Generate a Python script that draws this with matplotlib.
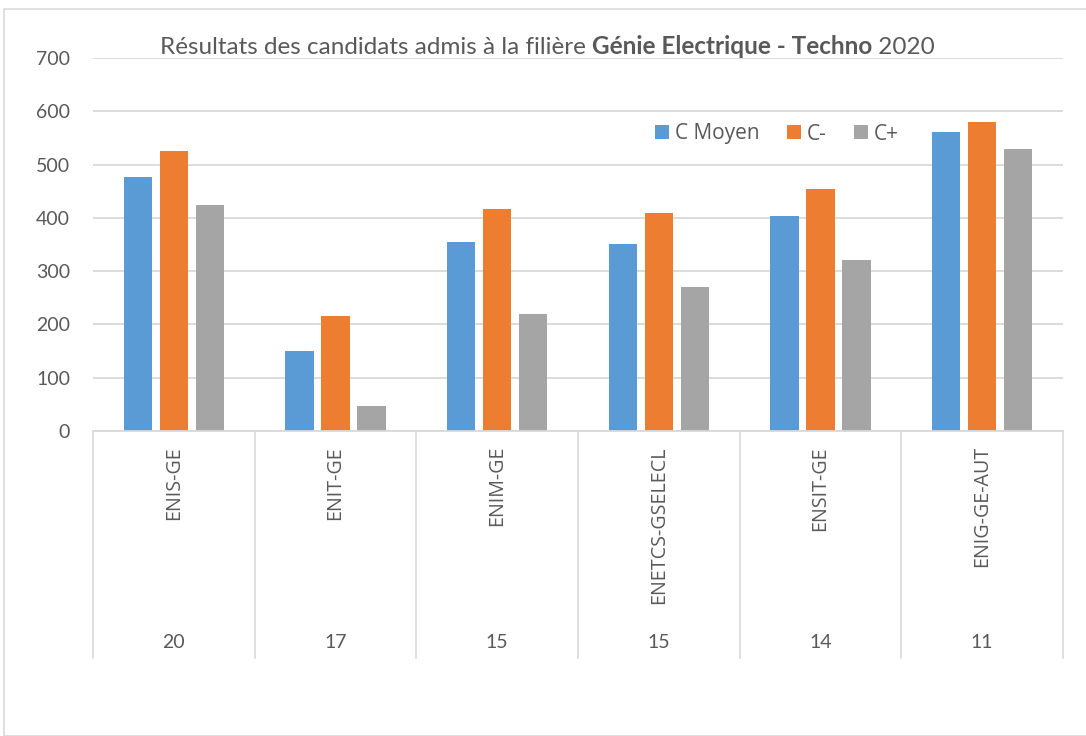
import matplotlib.pyplot as plt
import matplotlib.transforms as mtransforms
from matplotlib.patches import Rectangle
import numpy as np

# data
ecoles = ['ENIS-GE', 'ENIT-GE', 'ENIM-GE', 'ENETCS-GSELECL', 'ENSIT-GE', 'ENIG-GE-AUT']
effectifs = ['20', '17', '15', '15', '14', '11']
c_moyen = [476, 150, 354, 351, 404, 562]
c_moins = [525, 216, 416, 409, 455, 580]
c_plus = [425, 46, 220, 270, 321, 529]

series = [('C Moyen', c_moyen, '#5B9BD5'),
          ('C-', c_moins, '#ED7D31'),
          ('C+', c_plus, '#A5A5A5')]

W, H = 1086, 736
fig = plt.figure(figsize=(W / 100, H / 100), dpi=100)
fig.add_artist(Rectangle((4 / W, 0), 1.2, 1 - 9 / H, transform=fig.transFigure,
                         fill=False, edgecolor='#d9d9d9', lw=1.2))

ax = fig.add_axes([93 / W, 1 - 431 / H, (1063 - 93) / W, (431 - 58) / H])

x = np.arange(len(ecoles))
bw, step = 0.175, 0.222
for i, (name, vals, col) in enumerate(series):
    ax.bar(x + (i - 1) * step, vals, bw, color=col, label=name, zorder=3)

ax.set_xlim(-0.5, len(ecoles) - 0.5)
ax.set_ylim(0, 700)
ax.set_yticks(range(0, 701, 100))
ax.yaxis.grid(True, color='#d9d9d9', lw=1.3, zorder=0)
for s in ax.spines.values():
    s.set_visible(False)
ax.tick_params(axis='y', length=0, pad=16.5, labelsize=14, labelcolor='#595959')
for t in ax.get_yticklabels():
    t.set_family('Lato')
ax.set_xticks([])

# multi-level category axis
trans = mtransforms.blended_transform_factory(ax.transData, ax.transAxes)
ax.plot([-0.5, 5.5], [0, 0], color='#d9d9d9', lw=1.3, transform=trans, clip_on=False, zorder=4)
for b in np.arange(-0.5, len(ecoles), 1.0):
    ax.plot([b, b], [0, -227 / 373], color='#d9d9d9', lw=1.2, transform=trans, clip_on=False)
for xi, nom, n in zip(x, ecoles, effectifs):
    ax.text(xi, -15 / 373, nom, rotation=90, ha='center', va='top', transform=trans,
            fontsize=14.2, color='#595959', family='Open Sans')
    ax.text(xi, -212 / 373, n, ha='center', va='center', transform=trans,
            fontsize=14, color='#595959', family='Lato')

# title with a bold part
t1 = fig.text(160 / W, 1 - 47 / H, 'Résultats des candidats admis à la filière ',
              ha='left', va='center', fontsize=17.5, color='#595959', family='Lato')
t2 = ax.annotate('Génie Electrique - Techno', xy=(1, 0), xycoords=t1, ha='left', va='bottom',
                 fontsize=17.5, color='#595959', family='Lato', fontweight='bold')
ax.annotate(' 2020', xy=(1, 0), xycoords=t2, ha='left', va='bottom',
            fontsize=17.5, color='#595959', family='Lato')

leg = ax.legend(loc='center', bbox_to_anchor=(777 / W, 1 - 134 / H),
                bbox_transform=fig.transFigure, ncol=3, frameon=False,
                handlelength=0.67, handleheight=0.67, handletextpad=0.3, columnspacing=1.3,
                prop={'family': 'Open Sans', 'size': 15})
for t in leg.get_texts():
    t.set_color('#595959')

fig.savefig('out.png', dpi=100)
